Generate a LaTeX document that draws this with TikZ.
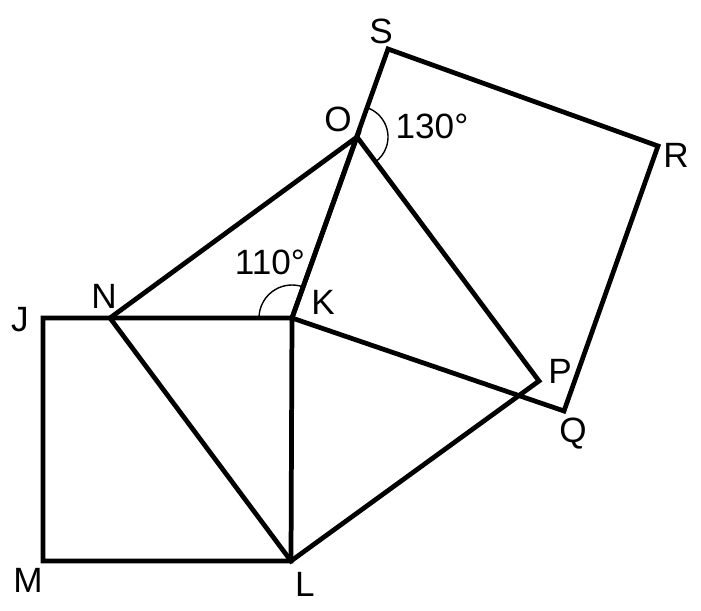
\documentclass[tikz,border=0pt]{standalone}
\usepackage{fontspec}
\setmainfont{Liberation Sans}
\begin{document}
\begin{tikzpicture}[x=0.02cm, y=-0.02cm, line width=2.7pt]
	\tikzset{lbl/.style={inner sep=0pt, font=\fontsize{20}{23}\selectfont},
		anglearc/.style={line width=0.8pt}}
	\useasboundingbox (0,0) rectangle (701,611);
	% points
	\coordinate (J) at (43,318);
	\coordinate (N) at (110,318);
	\coordinate (K) at (292,318);
	\coordinate (M) at (43,561);
	\coordinate (L) at (291,561);
	\coordinate (O) at (357,137);
	\coordinate (S) at (388,49);
	\coordinate (R) at (658,146);
	\coordinate (Q) at (564,411);
	\coordinate (P) at (539,381);
	% figure
	\draw (J) -- (K) -- (L) -- (M) -- cycle;
	\draw (N) -- (O) -- (K);
	\draw (N) -- (L) -- (P) -- (O);
	\draw (K) -- (S) -- (R) -- (Q) -- cycle;
	% angles
	\draw[anglearc] ([shift={(180:33)}]K) arc[start angle=180, end angle=289.9, radius=33];
	\draw[anglearc] ([shift={(-70.6:31)}]O) arc[start angle=-70.6, end angle=53.3, radius=31];
	% labels
	\node[lbl] (lS) at (381,31) {S};
	\node[lbl] (lO) at (338,119) {O};
	\node[lbl] (lR) at (676,155) {R};
	\node[lbl] (lK) at (323,302) {K};
	\node[lbl] (lN) at (104,296) {N};
	\node[lbl] (lJ) at (20,320) {J};
	\node[lbl] (lP) at (560,371) {P};
	\node[lbl] (lQ) at (573,434) {Q};
	\node[lbl] (lM) at (28,580) {M};
	\node[lbl] (lL) at (305,584) {L};
	\node[lbl] (a130) at (432,126) {130°};
	\node[lbl] (a110) at (270,262) {110°};
\end{tikzpicture}
\end{document}
